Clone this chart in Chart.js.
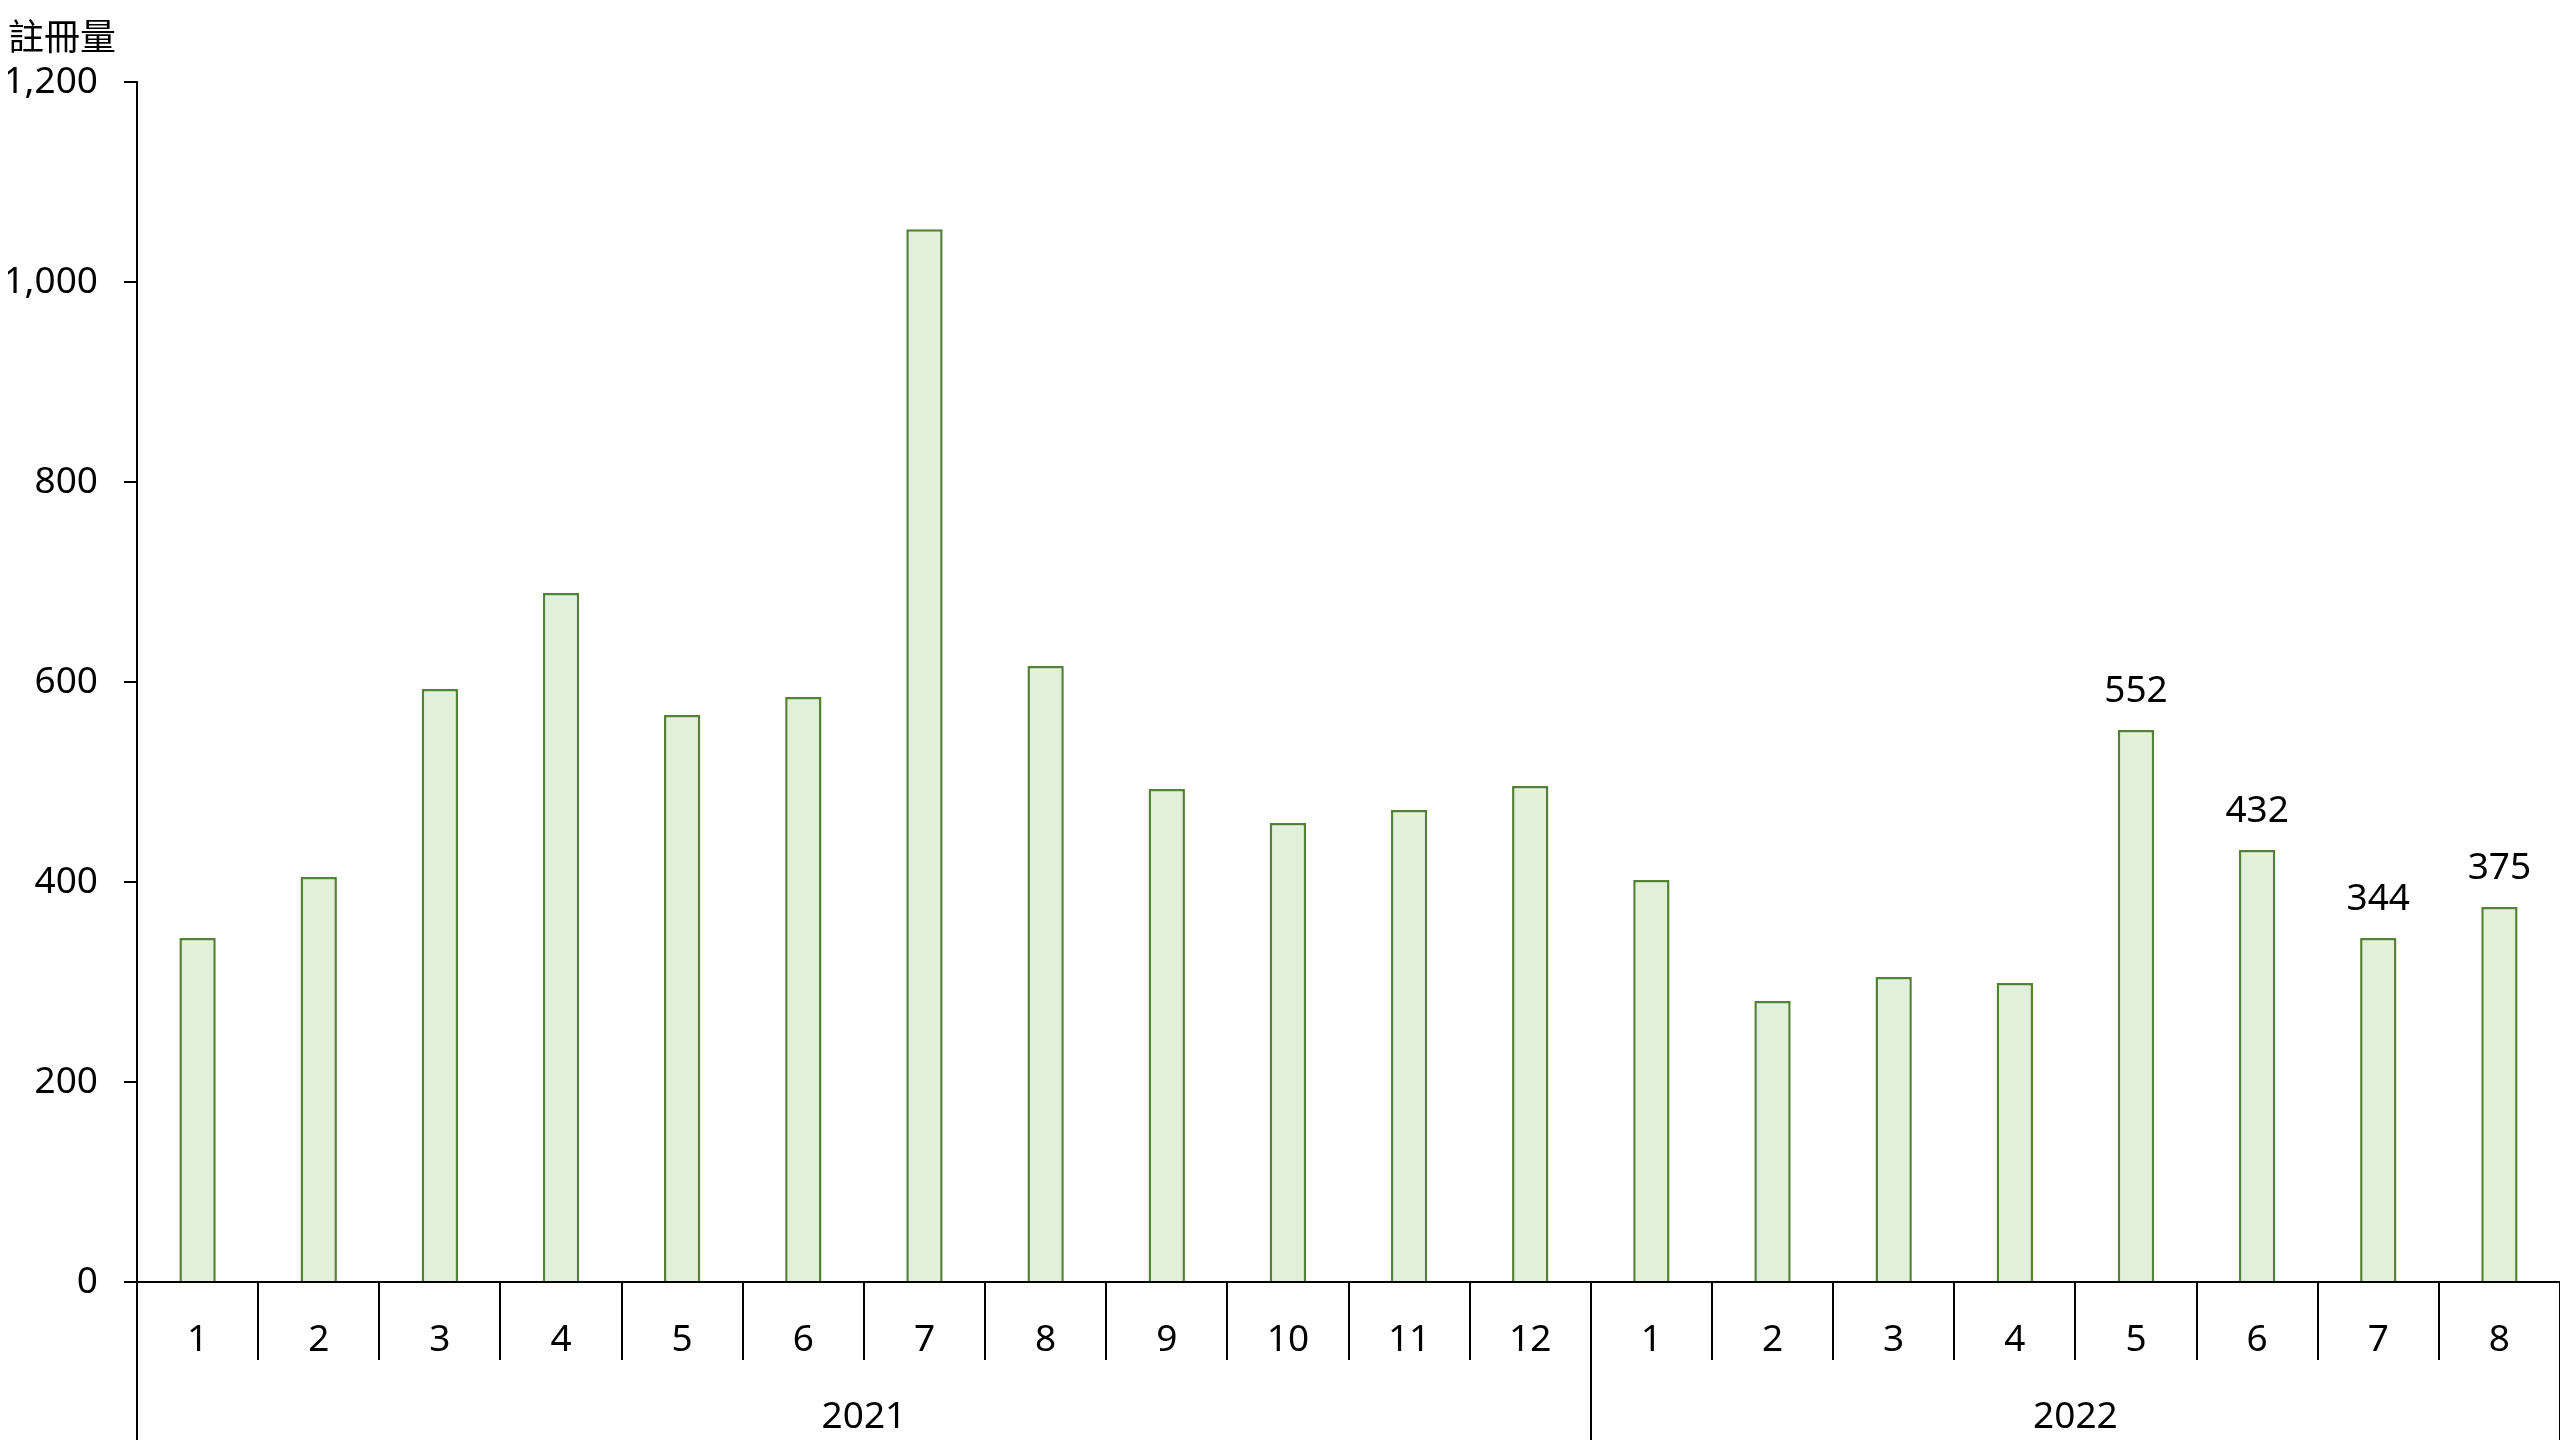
<!DOCTYPE html>
<html>
<head>
<meta charset="utf-8">
<script src="https://cdn.jsdelivr.net/npm/chart.js@4/dist/chart.umd.min.js"></script>
<style>
  html, body { margin: 0; padding: 0; background: #fff; }
  #wrap { width: 2560px; height: 1440px; }
</style>
</head>
<body>
<div id="wrap"><canvas id="regChart"></canvas></div>
<script>
// monthly registrations, Jan 2021 - Aug 2022
const monthLabels = ["1", "2", "3", "4", "5", "6", "7", "8", "9", "10", "11", "12",
                     "1", "2", "3", "4", "5", "6", "7", "8"];
const yearLabels = ["2021", "2022"];
const monthsPerYear = [12, 8];
const registrations = [344, 405, 593, 689, 567, 585, 1053, 616, 493, 459, 472, 496,
                       402, 281, 305, 299, 552, 432, 344, 375];
const labelledBars = [16, 17, 18, 19];
const yTicks = [0, 200, 400, 600, 800, 1000, 1200];

const FONT = "'Noto Sans', 'Noto Sans CJK TC', sans-serif";

// year axis: boundaries and centres in month units
const yearBounds = [0];
const yearCentres = [];
monthsPerYear.forEach((n) => {
  const start = yearBounds[yearBounds.length - 1];
  yearCentres.push(start + n / 2);
  yearBounds.push(start + n);
});
const totalMonths = yearBounds[yearBounds.length - 1];

const valueLabels = {
  id: "valueLabels",
  afterDatasetsDraw(chart) {
    const ctx = chart.ctx;
    const meta = chart.getDatasetMeta(0);
    ctx.save();
    ctx.font = "37px " + FONT;
    ctx.fillStyle = "#000";
    ctx.textAlign = "center";
    ctx.textBaseline = "middle";
    labelledBars.forEach((i) => {
      const bar = meta.data[i];
      ctx.fillText(String(registrations[i]), bar.x, bar.y - 39);
    });
    ctx.restore();
  },
};

new Chart(document.getElementById("regChart"), {
  type: "bar",
  data: {
    labels: monthLabels,
    datasets: [
      {
        label: "註冊量",
        data: registrations,
        backgroundColor: "#E2EFDA",
        borderColor: "#548235",
        borderWidth: 2.5,
        barPercentage: 0.3,
        categoryPercentage: 1,
        xAxisID: "x",
        yAxisID: "y",
      },
    ],
  },
  options: {
    responsive: true,
    maintainAspectRatio: false,
    animation: false,
    layout: { padding: { left: 8, right: 0, top: 0, bottom: 0 } },
    plugins: {
      legend: { display: false },
      tooltip: { enabled: false },
      title: {
        display: true,
        text: "註冊量",
        align: "start",
        color: "#000",
        font: { size: 36, family: FONT, weight: "normal" },
        padding: { top: 18, bottom: 21 },
      },
    },
    scales: {
      y: {
        min: 0,
        max: 1200,
        afterBuildTicks: (scale) => {
          scale.ticks = yTicks.map((v) => ({ value: v }));
        },
        afterFit: (scale) => {
          scale.width = 129;
        },
        border: { display: true, color: "#000", width: 2 },
        grid: {
          drawOnChartArea: false,
          drawTicks: true,
          tickLength: 13,
          color: "#000",
          lineWidth: 2,
        },
        ticks: {
          color: "#000",
          padding: 26,
          font: { size: 37, family: FONT },
          callback: (v) => v.toLocaleString("en-US"),
        },
      },
      x: {
        type: "category",
        position: "bottom",
        weight: 0,
        offset: true,
        afterFit: (scale) => {
          scale.height = 78;
        },
        border: { display: true, color: "#000", width: 2 },
        grid: {
          offset: true,
          drawOnChartArea: false,
          tickLength: 78,
          color: "#000",
          lineWidth: 2,
        },
        ticks: {
          color: "#000",
          padding: -42,
          autoSkip: false,
          maxRotation: 0,
          font: { size: 37, family: FONT },
        },
      },
      year: {
        type: "linear",
        axis: "x",
        position: "bottom",
        weight: 1,
        offset: false,
        min: 0,
        max: totalMonths,
        afterBuildTicks: (scale) => {
          const vals = yearBounds.concat(yearCentres).sort((a, b) => a - b);
          scale.ticks = vals.map((v) => ({ value: v }));
        },
        afterFit: (scale) => {
          scale.height = 80;
        },
        border: { display: false },
        grid: {
          offset: false,
          drawOnChartArea: false,
          tickLength: 80,
          lineWidth: 2,
          color: (c) => (c.tick && yearBounds.includes(c.tick.value) ? "#000" : "rgba(0,0,0,0)"),
        },
        ticks: {
          color: "#000",
          padding: -45,
          autoSkip: false,
          maxRotation: 0,
          font: { size: 37, family: FONT },
          callback: (v) => {
            const k = yearCentres.indexOf(v);
            return k >= 0 ? yearLabels[k] : "";
          },
        },
      },
    },
  },
  plugins: [valueLabels],
});
</script>
</body>
</html>
